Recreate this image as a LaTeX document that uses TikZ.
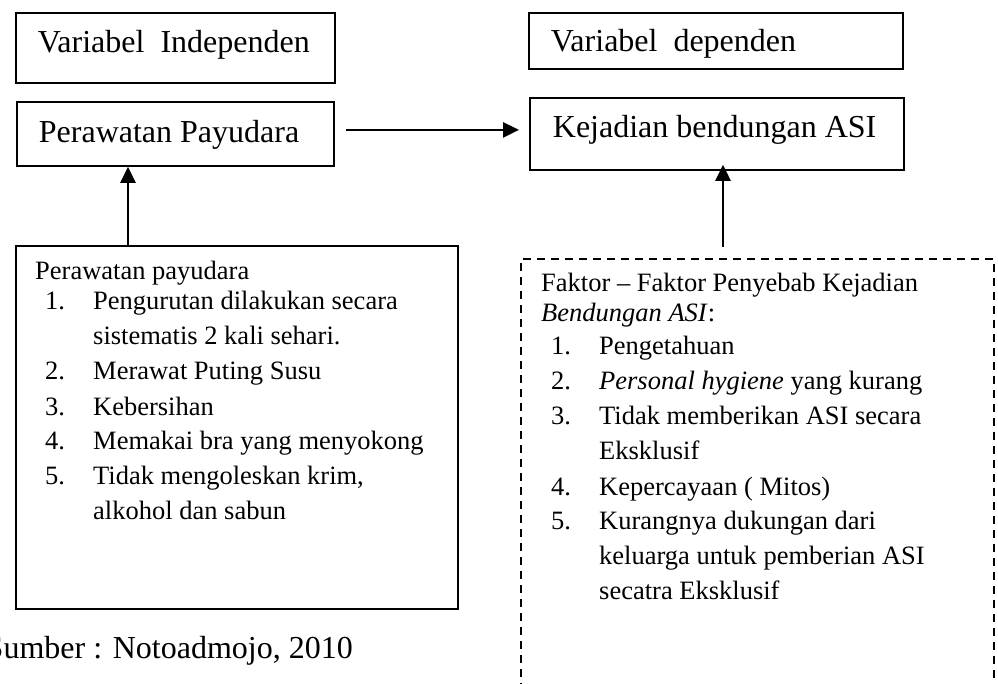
\documentclass[tikz,border=0pt]{standalone}
\usepackage{fontspec}
\setmainfont{Liberation Serif}
\usetikzlibrary{arrows.meta,positioning}

\newcommand{\numline}[2]{\hspace*{10pt}\makebox[48pt][l]{#1}#2}
\newcommand{\contline}[1]{\hspace*{58pt}#1}

\begin{document}
\begin{tikzpicture}[x=1pt,y=-1pt,
		box/.style={draw,line width=1.8pt,anchor=north west,inner xsep=20pt,inner ysep=0pt,font=\fontsize{32}{38}\selectfont},
		frame/.style={draw,line width=1.8pt,anchor=north west,inner sep=0pt},
		listtext/.style={anchor=base west,inner sep=0pt,font=\fontsize{26.5}{35}\selectfont},
		link/.style={-{Triangle[length=16pt,width=15pt]},line width=2.6pt}]
		\useasboundingbox (0,0) rectangle (998,684);

		\draw (15,12) node[box,text height=40pt,text depth=30pt] (indep) {\makebox[279pt][l]{\hspace*{2pt}Variabel\ \ Independen}};
		\draw (16,101) node[box,text height=41pt,text depth=23pt] (pay) {\makebox[277pt][l]{\hspace*{2pt}Perawatan Payudara}};
		\draw (528,12) node[box,text height=39pt,text depth=17pt] (dep) {\makebox[334pt][l]{\hspace*{2pt}Variabel\ \ dependen}};
		\draw (529,97) node[box,text height=40pt,text depth=32pt] (kej) {\makebox[334pt][l]{\hspace*{3pt}Kejadian bendungan ASI}};

		\draw (15,245) node[frame,minimum width=442pt,minimum height=363pt] (care) {};
		\draw (520,258) node[frame,dash pattern=on 8pt off 6pt,minimum width=473pt,minimum height=450pt] (factors) {};

		\draw (35,280) node[listtext] (carelist) {\begin{tabular}[t]{@{}l@{}}
			Perawatan payudara\\[-5pt]
			\numline{1.}{Pengurutan dilakukan secara}\\
			\contline{sistematis 2 kali sehari.}\\
			\numline{2.}{Merawat Puting Susu}\\
			\numline{3.}{Kebersihan}\\
			\numline{4.}{Memakai bra yang menyokong}\\
			\numline{5.}{Tidak mengoleskan krim,}\\
			\contline{alkohol dan sabun}
		\end{tabular}};
		\draw (541,292) node[listtext] (factlist) {\begin{tabular}[t]{@{}l@{}}
			Faktor -- Faktor Penyebab Kejadian\\[-5pt]
			\textit{Bendungan ASI}:\\[-2pt]
			\numline{1.}{Pengetahuan}\\
			\numline{2.}{\textit{Personal hygiene} yang kurang}\\
			\numline{3.}{Tidak memberikan ASI secara}\\
			\contline{Eksklusif}\\
			\numline{4.}{Kepercayaan ( Mitos)}\\
			\numline{5.}{Kurangnya dukungan dari}\\
			\contline{keluarga untuk pemberian ASI}\\
			\contline{secatra Eksklusif}
		\end{tabular}};

		\draw (353,658) node[anchor=base east,inner sep=0pt,font=\fontsize{32}{38}\selectfont] (src) {Sumber : Notoadmojo, 2010};

		\coordinate (lx) at (128,0);
		\coordinate (rx) at (723,0);

		\path[link]
			([yshift=4pt]pay.east)	edge	[shorten <=11pt,shorten >=10pt]		([yshift=4pt]kej.west)
			(care.north -| lx)		edge											(pay.south -| lx)
			(factors.north -| rx)	edge	[shorten <=11pt,shorten >=-6pt]		(kej.south -| rx)
			;
	\end{tikzpicture}
\end{document}
